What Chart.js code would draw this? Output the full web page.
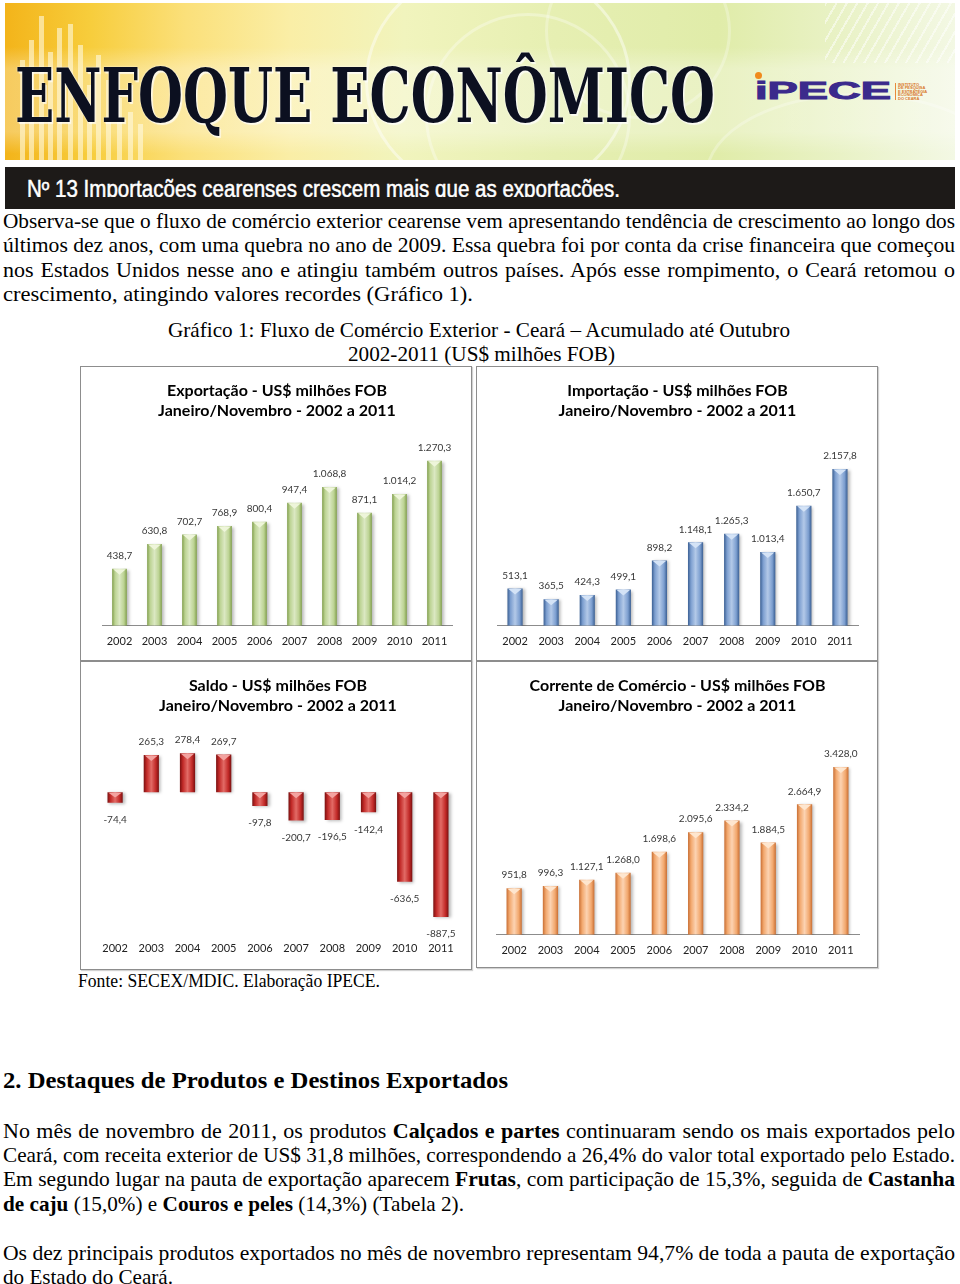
<!DOCTYPE html>
<html lang="pt-BR">
<head>
<meta charset="utf-8">
<title>Enfoque Econômico nº 13</title>
<script src="https://cdn.jsdelivr.net/npm/chart.js@4.4.1/dist/chart.umd.min.js"></script>
<style>
html,body{margin:0;padding:0;background:#fff;}
body{width:960px;height:1284px;position:relative;overflow:hidden;font-family:"Liberation Serif","Times New Roman",serif;color:#000;}
.ln,.fit{position:absolute;white-space:nowrap;line-height:1;transform-origin:0 50%;}
#banner{position:absolute;left:5px;top:3px;width:950px;height:157px;overflow:hidden;
  background:
    linear-gradient(180deg,rgba(255,255,255,0) 28%,rgba(255,255,255,.3) 42%,rgba(255,255,255,.3) 82%,rgba(255,255,255,0) 96%),
    linear-gradient(90deg,#f3b41a 0%,#f7cd3c 9%,#fbe07a 19%,#faeea6 30%,#f1f4bd 42%,#e6efb2 58%,#e0eca9 75%,#e9f2c6 88%,#f3f8e4 100%);}
.bar{position:absolute;bottom:0;width:5px;background:rgba(255,250,225,.6);}
.ring{position:absolute;border:3px solid rgba(255,255,255,.45);border-radius:50%;}
#mast{font-family:"DejaVu Serif Condensed","DejaVu Serif",serif;font-weight:bold;color:#0c1020;
  text-shadow:0 0 2px #fff,2px 2px 1px rgba(255,255,255,.7);}
#strip{position:absolute;left:5px;top:167px;width:950px;height:42px;background:#1d1a18;}
#stripclip{position:absolute;left:0;top:0;width:950px;height:30px;overflow:hidden;}
.panel{position:absolute;box-sizing:border-box;border:1px solid #8d8d8d;box-shadow:1px 1px 1px rgba(0,0,0,.18);background:#fff;}
.panel canvas{position:absolute;left:0;top:0;}
b{font-weight:bold;}
</style>
</head>
<body>

<div id="banner">
  <div class="bar" style="left:15px;height:100px"></div>
  <div class="bar" style="left:24px;height:120px"></div>
  <div class="bar" style="left:34px;height:144px"></div>
  <div class="bar" style="left:43px;height:108px"></div>
  <div class="bar" style="left:52px;height:132px"></div>
  <div class="bar" style="left:63px;height:136px"></div>
  <div class="bar" style="left:73px;height:115px"></div>
  <div class="bar" style="left:82px;height:75px"></div>
  <div class="bar" style="left:91px;height:105px"></div>
  <div class="bar" style="left:101px;height:80px"></div>
  <div class="bar" style="left:112px;height:62px"></div>
  <div class="bar" style="left:123px;height:48px"></div>
  <div class="bar" style="left:133px;height:36px"></div>
  <div class="ring" style="left:360px;top:-40px;width:260px;height:230px"></div>
  <div class="ring" style="left:420px;top:10px;width:200px;height:200px;opacity:.7"></div>
  <div class="ring" style="left:540px;top:-60px;width:180px;height:170px;opacity:.6"></div>
  <div class="ring" style="left:700px;top:90px;width:300px;height:160px;opacity:.6"></div>
  <div style="position:absolute;left:820px;top:0;width:130px;height:60px;background:repeating-linear-gradient(120deg,rgba(255,255,255,.5) 0 2px,rgba(255,255,255,0) 2px 9px);"></div>
</div>
<div id="mast" class="fit" style="left:15px;font-size:74px;top:59px" data-w="700">ENFOQUE ECONÔMICO</div>
<div class="fit" style="left:755px;top:79px;font-family:'Liberation Sans',sans-serif;font-weight:bold;font-size:24px;color:#3b2a8c;-webkit-text-stroke:1px #3b2a8c" data-w="136">iPECE</div>
<div style="position:absolute;left:755px;top:72px;width:7px;height:7px;border-radius:50%;background:#f08a1c"></div>
<div style="position:absolute;left:895px;top:83px;width:1px;height:17px;background:#e88a3a"></div>
<div style="position:absolute;left:898px;top:83px;font-family:'Liberation Sans',sans-serif;font-size:4px;line-height:3.4px;color:#d9782c;font-weight:bold">INSTITUTO<br>DE PESQUISA<br>E ESTRATÉGIA<br>ECONÔMICA<br>DO CEARÁ</div>

<div id="strip"><div id="stripclip">
  <div class="fit" id="striptext" style="left:22px;top:10.5px;font-family:'Liberation Sans',sans-serif;font-size:23px;color:#fff;-webkit-text-stroke:.5px #fff" data-w="593">Nº 13 Importacões cearenses crescem mais que as exportacões.</div>
</div></div>

<div class="ln" style="left:3px" data-fs="22" data-b="228" data-j="952">Observa-se que o fluxo de comércio exterior cearense vem apresentando tendência de crescimento ao longo dos</div>
<div class="ln" style="left:3px" data-fs="22" data-b="252" data-j="952">últimos dez anos, com uma quebra no ano de 2009. Essa quebra foi por conta da crise financeira que começou</div>
<div class="ln" style="left:3px" data-fs="22" data-b="277" data-j="952">nos Estados Unidos nesse ano e atingiu também outros países. Após esse rompimento, o Ceará retomou o</div>
<div class="ln" style="left:3px" data-fs="22" data-b="301" data-w="470">crescimento, atingindo valores recordes (Gráfico 1).</div>

<div class="ln" style="left:168px" data-fs="22" data-b="337" data-w="622">Gráfico 1: Fluxo de Comércio Exterior - Ceará – Acumulado até Outubro</div>
<div class="ln" style="left:348px" data-fs="22" data-b="361" data-w="267">2002-2011 (US$ milhões FOB)</div>

<div class="panel" style="left:80px;top:366px;width:392px;height:295px"><canvas id="cExp" width="390" height="293"></canvas></div>
<div class="panel" style="left:476px;top:366px;width:402px;height:295px"><canvas id="cImp" width="400" height="293"></canvas></div>
<div class="panel" style="left:80px;top:661px;width:392px;height:309px"><canvas id="cSal" width="390" height="307"></canvas></div>
<div class="panel" style="left:476px;top:661px;width:402px;height:307px"><canvas id="cCor" width="400" height="305"></canvas></div>

<div class="ln" style="left:78px" data-fs="19" data-b="987" data-w="302">Fonte: SECEX/MDIC. Elaboração IPECE.</div>

<div class="ln" style="left:3px;font-weight:bold" data-fs="24" data-b="1088" data-w="505">2. Destaques de Produtos e Destinos Exportados</div>

<div class="ln" style="left:3px" data-fs="22" data-b="1138" data-j="952">No mês de novembro de 2011, os produtos <b>Calçados e partes</b> continuaram sendo os mais exportados pelo</div>
<div class="ln" style="left:3px" data-fs="22" data-b="1162" data-j="952">Ceará, com receita exterior de US$ 31,8 milhões, correspondendo a 26,4% do valor total exportado pelo Estado.</div>
<div class="ln" style="left:3px" data-fs="22" data-b="1186" data-j="952">Em segundo lugar na pauta de exportação aparecem <b>Frutas</b>, com participação de 15,3%, seguida de <b>Castanha</b></div>
<div class="ln" style="left:3px" data-fs="22" data-b="1211" data-w="461"><b>de caju</b> (15,0%) e <b>Couros e peles</b> (14,3%) (Tabela 2).</div>

<div class="ln" style="left:3px" data-fs="22" data-b="1260" data-j="952">Os dez principais produtos exportados no mês de novembro representam 94,7% de toda a pauta de exportação</div>
<div class="ln" style="left:3px" data-fs="22" data-b="1284" data-w="170">do Estado do Ceará.</div>

<script>
// ---- data ----
const years = ['2002', '2003', '2004', '2005', '2006', '2007', '2008', '2009', '2010', '2011'];
const exportacao = [438.7, 630.8, 702.7, 768.9, 800.4, 947.4, 1068.8, 871.1, 1014.2, 1270.3];
const importacao = [513.1, 365.5, 424.3, 499.1, 898.2, 1148.1, 1265.3, 1013.4, 1650.7, 2157.8];
const saldo = [-74.4, 265.3, 278.4, 269.7, -97.8, -200.7, -196.5, -142.4, -636.5, -887.5];
const corrente = [951.8, 996.3, 1127.1, 1268.0, 1698.6, 2095.6, 2334.2, 1884.5, 2664.9, 3428.0];
const periodo = 'Janeiro/Novembro - 2002 a 2011';

const BAR_PCT = 0.42;

// ---- page text placement ----
document.querySelectorAll('.ln').forEach(el => {
  const fs = +el.dataset.fs, b = +el.dataset.b;
  el.style.fontSize = fs + 'px';
  el.style.top = (b - 0.8375 * fs) + 'px';
  const nat = el.getBoundingClientRect().width;
  if (el.dataset.j) {
    const target = +el.dataset.j;
    const spaces = (el.textContent.match(/ /g) || []).length;
    if (nat <= target) el.style.wordSpacing = ((target - nat) / spaces) + 'px';
    else el.style.transform = 'scaleX(' + (target / nat) + ')';
  } else if (el.dataset.w) {
    el.style.transform = 'scaleX(' + (+el.dataset.w / nat) + ')';
  }
});
document.querySelectorAll('.fit').forEach(el => {
  const nat = el.getBoundingClientRect().width;
  el.style.transform = 'scaleX(' + (+el.dataset.w / nat) + ')';
});

// ---- charts ----
function fmt(v){
  const s = Math.abs(v).toFixed(1).split('.');
  const int = s[0].replace(/\B(?=(\d{3})+(?!\d))/g, '.');
  return (v < 0 ? '-' : '') + int + ',' + s[1];
}

function barFill(stops){
  return (ctx) => {
    const chart = ctx.chart, xs = chart.scales && chart.scales.x;
    if (ctx.type !== 'data' || !xs || !xs.width) return stops[1];
    const cx = xs.getPixelForValue(ctx.dataIndex);
    const w = xs.width / years.length * BAR_PCT;
    const g = chart.ctx.createLinearGradient(cx - w / 2, 0, cx + w / 2, 0);
    g.addColorStop(0, stops[0]);
    g.addColorStop(0.2, stops[1]);
    g.addColorStop(0.5, stops[2]);
    g.addColorStop(0.8, stops[1]);
    g.addColorStop(1, stops[0]);
    return g;
  };
}

// value labels + light chevron on the top of each bar
const barDeco = {
  id: 'barDeco',
  beforeDatasetDraw(chart){
    const c = chart.ctx;
    c.save();
    c.shadowColor = 'rgba(0,0,0,0.28)';
    c.shadowBlur = 3;
    c.shadowOffsetX = 2;
    c.shadowOffsetY = 1;
  },
  afterDatasetDraw(chart, args, opts){
    const c = chart.ctx;
    c.restore();
    const vals = chart.data.datasets[args.index].data;
    c.save();
    args.meta.data.forEach((bar, i) => {
      const top = Math.min(bar.y, bar.base);
      const h = Math.abs(bar.base - bar.y);
      const w = bar.width;
      c.fillStyle = opts.cap;
      c.beginPath();
      c.moveTo(bar.x - w / 2 + 1, top + 0.5);
      c.lineTo(bar.x + w / 2 - 1, top + 0.5);
      c.lineTo(bar.x, top + Math.min(6, h / 2));
      c.closePath();
      c.fill();
      const v = vals[i];
      c.fillStyle = '#383838';
      c.font = '10px Lato';
      c.textAlign = 'center';
      c.textBaseline = 'middle';
      c.fillText(fmt(v), bar.x, v >= 0 ? bar.y - 13 : bar.y + 17);
    });
    c.restore();
  }
};

function makeChart(id, title, values, stops, cap, sc){
  const neg = sc.min < 0;
  return new Chart(document.getElementById(id), {
    type: 'bar',
    data: {
      labels: years,
      datasets: [{
        data: values,
        backgroundColor: barFill(stops),
        borderWidth: 0,
        barPercentage: BAR_PCT,
        categoryPercentage: 1
      }]
    },
    options: {
      responsive: false,
      animation: false,
      devicePixelRatio: 1,
      layout: { padding: sc.pad },
      plugins: {
        legend: { display: false },
        tooltip: { enabled: false },
        title: {
          display: true,
          text: [title, periodo],
          color: '#000',
          font: { family: 'Lato', size: 16, weight: 'bold', lineHeight: 1.25 },
          padding: { top: 14, bottom: 23 }
        },
        barDeco: { cap }
      },
      scales: {
        x: {
          grid: { display: false, drawTicks: false },
          border: { display: !neg, color: '#8c8c8c', width: 1 },
          ticks: { color: '#222', font: { family: 'Lato', size: 11 }, padding: 9, maxRotation: 0, autoSkip: false }
        },
        y: {
          display: neg,
          min: sc.min,
          max: sc.max,
          ticks: { display: false, stepSize: 200 },
          border: { display: false },
          grid: {
            drawTicks: false,
            lineWidth: 1,
            color: (c) => (c.tick && c.tick.value === 0) ? '#8c8c8c' : 'rgba(0,0,0,0)'
          }
        }
      }
    },
    plugins: [barDeco]
  });
}

makeChart('cExp', 'Exportação - US$ milhões FOB', exportacao,
  ['#819f4c', '#bcd393', '#dbe8c2'], '#eef5da',
  { min: 0, max: 1400, pad: { left: 21, right: 19, top: 0, bottom: 3 } });
makeChart('cImp', 'Importação - US$ milhões FOB', importacao,
  ['#3a5f93', '#7d9fd0', '#b3c9e8'], '#d4e3f6',
  { min: 0, max: 2500, pad: { left: 20, right: 19, top: 0, bottom: 3 } });
makeChart('cSal', 'Saldo - US$ milhões FOB', saldo,
  ['#7a1010', '#c22a28', '#e26b66'], '#f3a3a0',
  { min: -1000, max: 380, pad: { left: 16, right: 12, top: 0, bottom: 5 } });
makeChart('cCor', 'Corrente de Comércio - US$ milhões FOB', corrente,
  ['#c96f34', '#f2a86e', '#fcd3b2'], '#fee6cf',
  { min: 0, max: 4000, pad: { left: 19, right: 18, top: 0, bottom: 1 } });
</script>
</body>
</html>
